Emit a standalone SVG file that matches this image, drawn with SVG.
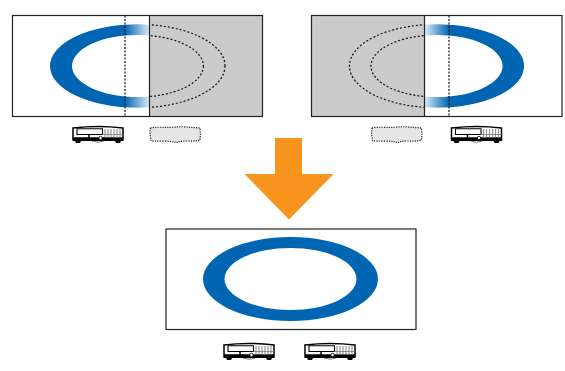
<svg xmlns="http://www.w3.org/2000/svg" xmlns:xlink="http://www.w3.org/1999/xlink" width="565" height="371" viewBox="0 0 565 371">
<style>
.frame{fill:none;stroke:#222;stroke-width:1.2}
.band{fill-rule:evenodd}
.dash{fill:none;stroke:#111;stroke-width:1.2;stroke-dasharray:2 2}
.seam{fill:none;stroke:#111;stroke-width:1.2;stroke-dasharray:2 1.5}
.ghost{fill:#e6e6e6;stroke:#222;stroke-width:1.2;stroke-dasharray:1.2 1.2}
</style>
<defs>
<linearGradient id="fadeL" gradientUnits="userSpaceOnUse" x1="125" y1="0" x2="149" y2="0">
<stop offset="0" stop-color="#0066b3"/><stop offset="1" stop-color="#0066b3" stop-opacity="0.15"/>
</linearGradient>
<linearGradient id="fadeR" gradientUnits="userSpaceOnUse" x1="449" y1="0" x2="425" y2="0">
<stop offset="0" stop-color="#0066b3"/><stop offset="1" stop-color="#0066b3" stop-opacity="0.15"/>
</linearGradient>
<clipPath id="cL1"><rect x="40" y="15" width="85" height="102"/></clipPath>
<clipPath id="cL2"><rect x="125" y="15" width="24.5" height="102"/></clipPath>
<clipPath id="cL3"><rect x="149.500" y="15" width="90" height="102"/></clipPath>
<clipPath id="cR1"><rect x="449" y="15" width="85" height="102"/></clipPath>
<clipPath id="cR2"><rect x="424.500" y="15" width="24.500" height="102"/></clipPath>
<clipPath id="cR3"><rect x="335" y="15" width="89.500" height="102"/></clipPath>
<path id="ringL" class="band" d="M50 66a87.500 41.700 0 1 0 175 0a87.500 41.700 0 1 0 -175 0ZM72 66a65.700 31 0 1 0 131.400 0a65.700 31 0 1 0 -131.400 0Z"/>
<path id="ringR" class="band" d="M349.500 66a87.300 41.700 0 1 0 174.600 0a87.300 41.700 0 1 0 -174.600 0ZM371 66a65.800 31 0 1 0 131.600 0a65.800 31 0 1 0 -131.600 0Z"/>
<g id="proj">
<path d="M0 2.500Q25 -0.500 50 2.500V14.500H0Z" fill="#fff" stroke="#000" stroke-width="1.500"/>
<path d="M4 3.200H29.500V9H4Z" fill="#fff" stroke="#000" stroke-width="1.100"/>
<path d="M0 11.800H50V15.500H0Z" fill="#000"/>
<path d="M2 15.500H8L7 17.500H3ZM42 15.500H48L47 17.500H43Z" fill="#000"/>
<path d="M19 15.500Q25 18 31 15.500" fill="none" stroke="#555" stroke-width="0.800"/>
<path d="M16 9V14" stroke="#000" stroke-width="1.500"/>
<path d="M32 3.500V12M35 3.500V12M38 3.500V12M41 3.500V12M44 3.500V12M47 3.500V12" stroke="#999" stroke-width="1.200"/>
<path d="M29 9H50" stroke="#777" stroke-width="0.800"/>
<circle cx="27.500" cy="12.500" r="1.700" fill="#fff" stroke="#000" stroke-width="0.800"/>
</g>
<path id="ghostShape" class="ghost" d="M0.500 2Q5 1 12 1.300T26 1T40 1.300L50 2L50.500 8L50 14Q44 15.500 38 15Q31 14.800 26 16.500Q20 15 12 15.200T1 14.500L0 8Z"/>
</defs>

<g id="connectors">
<path id="arrow" d="M275 138H302V174H333.500L289 219.500L244.500 174H275Z" fill="#f7941d"/>
</g>

<g id="screen-left">
<rect x="149.500" y="15.500" width="113" height="101" fill="#cbcbcb"/>
<use xlink:href="#ringL" href="#ringL" fill="#0066b3" clip-path="url(#cL1)"/>
<use xlink:href="#ringL" href="#ringL" fill="url(#fadeL)" clip-path="url(#cL2)"/>
<g clip-path="url(#cL3)">
<ellipse class="dash" cx="137.500" cy="66" rx="87.500" ry="41.700"/>
<ellipse class="dash" cx="137.700" cy="66" rx="65.700" ry="31"/>
</g>
<rect class="frame" x="12.500" y="15.500" width="250" height="101"/>
<path class="frame" d="M149.500 15.500V116.500"/>
<path class="seam" d="M125 15.500V117"/>
</g>

<g id="screen-right">
<rect x="312" y="15.500" width="112.500" height="101" fill="#cbcbcb"/>
<use xlink:href="#ringR" href="#ringR" fill="#0066b3" clip-path="url(#cR1)"/>
<use xlink:href="#ringR" href="#ringR" fill="url(#fadeR)" clip-path="url(#cR2)"/>
<g clip-path="url(#cR3)">
<ellipse class="dash" cx="436.800" cy="66" rx="87.300" ry="41.700"/>
<ellipse class="dash" cx="436.800" cy="66" rx="65.800" ry="31"/>
</g>
<rect class="frame" x="311.500" y="15.500" width="250.500" height="101"/>
<path class="frame" d="M424.500 15.500V116.500"/>
<path class="seam" d="M449 15.500V117"/>
</g>

<g id="screen-bottom">
<rect class="frame" x="166" y="229" width="250" height="100.500" fill="#fff"/>
<path class="band" fill="#0066b3" d="M203 279a87.500 42 0 1 0 175 0a87.500 42 0 1 0 -175 0ZM224.500 279a66 31 0 1 0 132 0a66 31 0 1 0 -132 0Z"/>
</g>

<g id="projector-left-on"><use xlink:href="#proj" href="#proj" x="73" y="125.500"/></g>
<g id="projector-left-off"><use xlink:href="#ghostShape" href="#ghostShape" x="150" y="126"/></g>
<g id="projector-right-off"><use xlink:href="#ghostShape" href="#ghostShape" x="371.500" y="126"/></g>
<g id="projector-right-on"><use xlink:href="#proj" href="#proj" x="451.500" y="125.500"/></g>
<g id="projector-bottom-left"><use xlink:href="#proj" href="#proj" x="224" y="342.500"/></g>
<g id="projector-bottom-right"><use xlink:href="#proj" href="#proj" x="305" y="342.500"/></g>
</svg>
